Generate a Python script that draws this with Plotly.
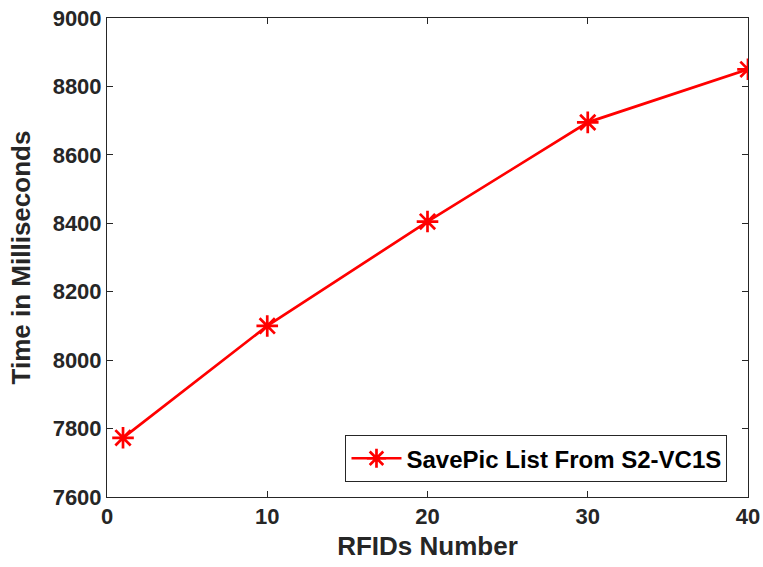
import plotly.graph_objects as go

rfids = [1, 10, 20, 30, 40]
time_ms = [7773, 8100, 8405, 8695, 8850]
series_name = "SavePic List From S2-VC1S"
x_ticks = [0, 10, 20, 30, 40]
y_ticks = [7600, 7800, 8000, 8200, 8400, 8600, 8800, 9000]

font_family = "Liberation Sans, Arial, sans-serif"
ink = "#262626"

fig = go.Figure()
fig.add_trace(go.Scatter(
    x=rfids, y=time_ms, mode="lines+markers", name=series_name,
    line=dict(color="#ff0000", width=2.7),
    marker=dict(symbol="asterisk-open", size=18, color="#ff0000",
                line=dict(color="#ff0000", width=2.7)),
))

axis_common = dict(
    showgrid=False, zeroline=False, showline=True, linecolor=ink, linewidth=1,
    mirror="allticks", ticks="inside", ticklen=6, tickcolor=ink, tickwidth=1,
    tickfont=dict(family=font_family, size=22, color=ink, weight="bold"),
    automargin=False, ticklabeloverflow="allow",
)

fig.update_layout(
    width=763, height=567,
    margin=dict(l=107, r=15, t=18, b=70),
    paper_bgcolor="white", plot_bgcolor="white",
    font=dict(family=font_family, color=ink),
    xaxis=dict(range=[0, 40], tickvals=x_ticks,
               title=dict(text="RFIDs Number",
                          font=dict(size=26, family=font_family, weight="bold", color=ink),
                          standoff=8),
               **axis_common),
    yaxis=dict(range=[7600, 9000], tickvals=y_ticks,
               title=dict(text="Time in Milliseconds",
                          font=dict(size=26, family=font_family, weight="bold", color=ink),
                          standoff=14),
               **axis_common),
    showlegend=True,
    legend=dict(x=0.968, y=0.031, xanchor="right", yanchor="bottom",
                bgcolor="white", bordercolor=ink, borderwidth=1,
                font=dict(family=font_family, size=24, color="black", weight="bold"),
                itemwidth=50, tracegroupgap=0),
)

fig.write_html(
    "out.html",
    config={"displayModeBar": False},
    post_script="document.body.style.margin='0';document.body.style.overflow='hidden';",
)
